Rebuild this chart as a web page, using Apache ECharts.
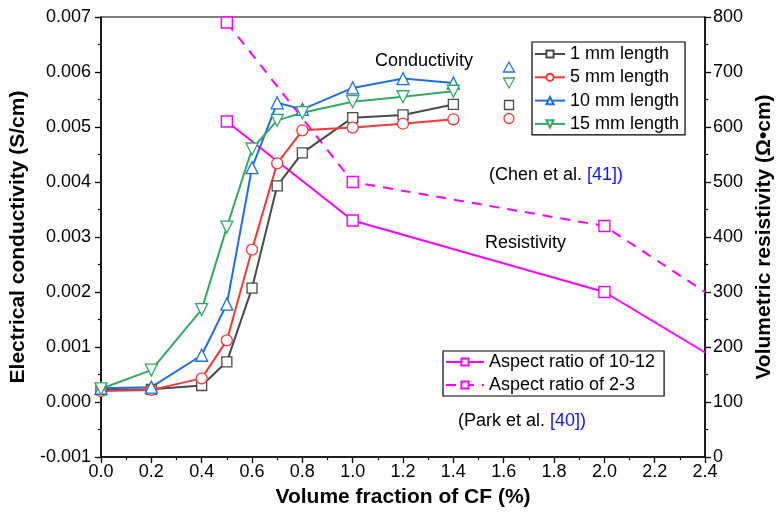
<!DOCTYPE html>
<html>
<head>
<meta charset="utf-8">
<script src="https://cdn.jsdelivr.net/npm/echarts@6/dist/echarts.min.js"></script>
<style>
html,body{margin:0;padding:0;background:#fff;}
#chart{width:783px;height:528px;}
</style>
</head>
<body>
<div id="chart"></div>
<script>
// ---- data ----
const xCond = [0, 0.2, 0.4, 0.5, 0.6, 0.7, 0.8, 1.0, 1.2, 1.4];
const len1mm  = [0.00022, 0.00023, 0.00030, 0.00073, 0.00207, 0.00393, 0.00453, 0.00517, 0.00522, 0.00541];
const len5mm  = [0.00020, 0.00022, 0.00043, 0.00112, 0.00277, 0.00434, 0.00494, 0.00499, 0.00506, 0.00514];
const len10mm = [0.00025, 0.00027, 0.00085, 0.00178, 0.00426, 0.00544, 0.00532, 0.00571, 0.00588, 0.00580];
const len15mm = [0.00024, 0.00058, 0.00168, 0.00318, 0.00460, 0.00512, 0.00526, 0.00546, 0.00555, 0.00565];

const xRes = [0.5, 1.0, 2.0, 2.4];
const aspect1012 = [610, 430, 300, 190];   // last point lies on the axis edge (line clipped there)
const aspect23   = [790, 500, 420, 300];

const condNames = ['1 mm length', '5 mm length', '10 mm length', '15 mm length'];
const resNames = ['Aspect ratio of 10-12', 'Aspect ratio of 2-3'];

const FONT = '"Liberation Sans", Arial, sans-serif';
const colors = {gray:'#4a4a4a', red:'#f03a3a', blue:'#1f6fe0', green:'#35a865', mag:'#ff00ff'};

function pairs(xs, ys){ return xs.map((x,i)=>[x, ys[i]]); }
function resPairs(xs, ys){
  return xs.map((x,i)=> i === xs.length-1 ? {value:[x, ys[i]], symbol:'none'} : [x, ys[i]]);
}

function condSeries(name, ys, color, symbol, rotate){
  return {
    name, type:'line', xAxisIndex:0, yAxisIndex:0,
    data: pairs(xCond, ys),
    symbol, symbolSize: symbol==='circle'?11:(symbol==='rect'?10:12), symbolRotate: rotate||0,
    showAllSymbol:true,
    lineStyle:{color, width:2},
    itemStyle:{color:'#fff', borderColor:color, borderWidth:1.3},
    z:3
  };
}

const chart = echarts.init(document.getElementById('chart'), null, {renderer:'canvas'});
const axisLine = {show:true, onZero:false, lineStyle:{color:'#000', width:1.5}};
const option = {
  animation:false,
  backgroundColor:'#fff',
  grid:{left:101, right:66, top:17, bottom:71, show:true, borderColor:'#000', borderWidth:1.2, containLabel:false},
  xAxis:[{
    type:'value', min:0, max:2.4, interval:0.2,
    name:'Volume fraction of CF (%)', nameLocation:'middle', nameGap:30,
    nameTextStyle:{fontFamily:FONT, fontSize:21, fontWeight:'bold', color:'#000'},
    axisLine, axisTick:{show:true, inside:false, length:6, lineStyle:{color:'#000', width:1.3}},
    minorTick:{show:true, splitNumber:2, length:3, lineStyle:{color:'#000', width:1.2}},
    splitLine:{show:false},
    axisLabel:{fontFamily:FONT, fontSize:18, color:'#000', margin:6, formatter:v=>v.toFixed(1)}
  }],
  yAxis:[{
    type:'value', min:-0.001, max:0.007, interval:0.001, position:'left',
    name:'Electrical conductivity (S/cm)', nameLocation:'middle', nameGap:63,
    nameTextStyle:{fontFamily:FONT, fontSize:21, fontWeight:'bold', color:'#000'},
    axisLine, axisTick:{show:true, inside:false, length:6, lineStyle:{color:'#000', width:1.3}},
    minorTick:{show:true, splitNumber:2, length:3, lineStyle:{color:'#000', width:1.2}},
    splitLine:{show:false},
    axisLabel:{fontFamily:FONT, fontSize:18, color:'#000', margin:10, formatter:v=>v.toFixed(3)}
  },{
    type:'value', min:0, max:800, interval:100, position:'right',
    name:'Volumetric resistivity (Ω•cm)', nameLocation:'middle', nameGap:44, nameRotate:90,
    nameTextStyle:{fontFamily:FONT, fontSize:21, fontWeight:'bold', color:'#000'},
    axisLine, axisTick:{show:true, inside:false, length:6, lineStyle:{color:'#000', width:1.3}},
    minorTick:{show:true, splitNumber:2, length:3, lineStyle:{color:'#000', width:1.2}},
    splitLine:{show:false},
    axisLabel:{fontFamily:FONT, fontSize:18, color:'#000', margin:8}
  }],
  legend:[{
    data:condNames, orient:'vertical', left:532, top:42,
    itemWidth:30, itemHeight:9, itemGap:5.3, padding:[3,6,2,2],
    borderColor:'#000', borderWidth:1.2, backgroundColor:'#fff',
    textStyle:{fontFamily:FONT, fontSize:18, color:'#000'}
  },{
    data:resNames, orient:'vertical', left:443, top:351,
    itemWidth:38, itemHeight:9, itemGap:5, padding:[2,9,2,2],
    borderColor:'#000', borderWidth:1.2, backgroundColor:'#fff',
    textStyle:{fontFamily:FONT, fontSize:18, color:'#000'}
  }],
  series:[
    condSeries(condNames[0], len1mm, colors.gray, 'rect'),
    condSeries(condNames[1], len5mm, colors.red, 'circle'),
    condSeries(condNames[2], len10mm, colors.blue, 'triangle'),
    condSeries(condNames[3], len15mm, colors.green, 'triangle', 180),
    {
      name:resNames[0], type:'line', xAxisIndex:0, yAxisIndex:1,
      data:resPairs(xRes, aspect1012), symbol:'rect', symbolSize:11,
      lineStyle:{color:colors.mag, width:2},
      itemStyle:{color:'#fff', borderColor:colors.mag, borderWidth:1.4}, z:2
    },{
      name:resNames[1], type:'line', xAxisIndex:0, yAxisIndex:1,
      data:resPairs(xRes, aspect23), symbol:'rect', symbolSize:11,
      lineStyle:{color:colors.mag, width:2, type:[10,8]},
      itemStyle:{color:'#fff', borderColor:colors.mag, borderWidth:1.4}, z:2
    }
  ],
  graphic:[
    {type:'text', left:375, top:52, style:{text:'Conductivity', font:'18px '+FONT, fill:'#000'}},
    {type:'text', left:485, top:234, style:{text:'Resistivity', font:'18px '+FONT, fill:'#000'}},
    {type:'text', left:489, top:166, style:{text:'(Chen et al. {b|[41])}', font:'18px '+FONT, fill:'#000',
      rich:{b:{fill:'#1414ff', font:'18px '+FONT}}}},
    {type:'text', left:458, top:412, style:{text:'(Park et al. {b|[40])}', font:'18px '+FONT, fill:'#000',
      rich:{b:{fill:'#1414ff', font:'18px '+FONT}}}},
    // stray legend-like markers beside the legend box (as in the original figure)
    {type:'polygon', shape:{points:[[509,62],[503.5,72],[514.5,72]]}, style:{fill:'#fff', stroke:colors.blue, lineWidth:1.3}},
    {type:'polygon', shape:{points:[[503.5,78],[514.5,78],[509,88]]}, style:{fill:'#fff', stroke:colors.green, lineWidth:1.3}},
    {type:'rect', shape:{x:504.5, y:100.5, width:9, height:9}, style:{fill:'#fff', stroke:colors.gray, lineWidth:1.3}},
    {type:'circle', shape:{cx:509, cy:118.5, r:5}, style:{fill:'#fff', stroke:colors.red, lineWidth:1.3}}
  ]
};
chart.setOption(option);
</script>
</body>
</html>
